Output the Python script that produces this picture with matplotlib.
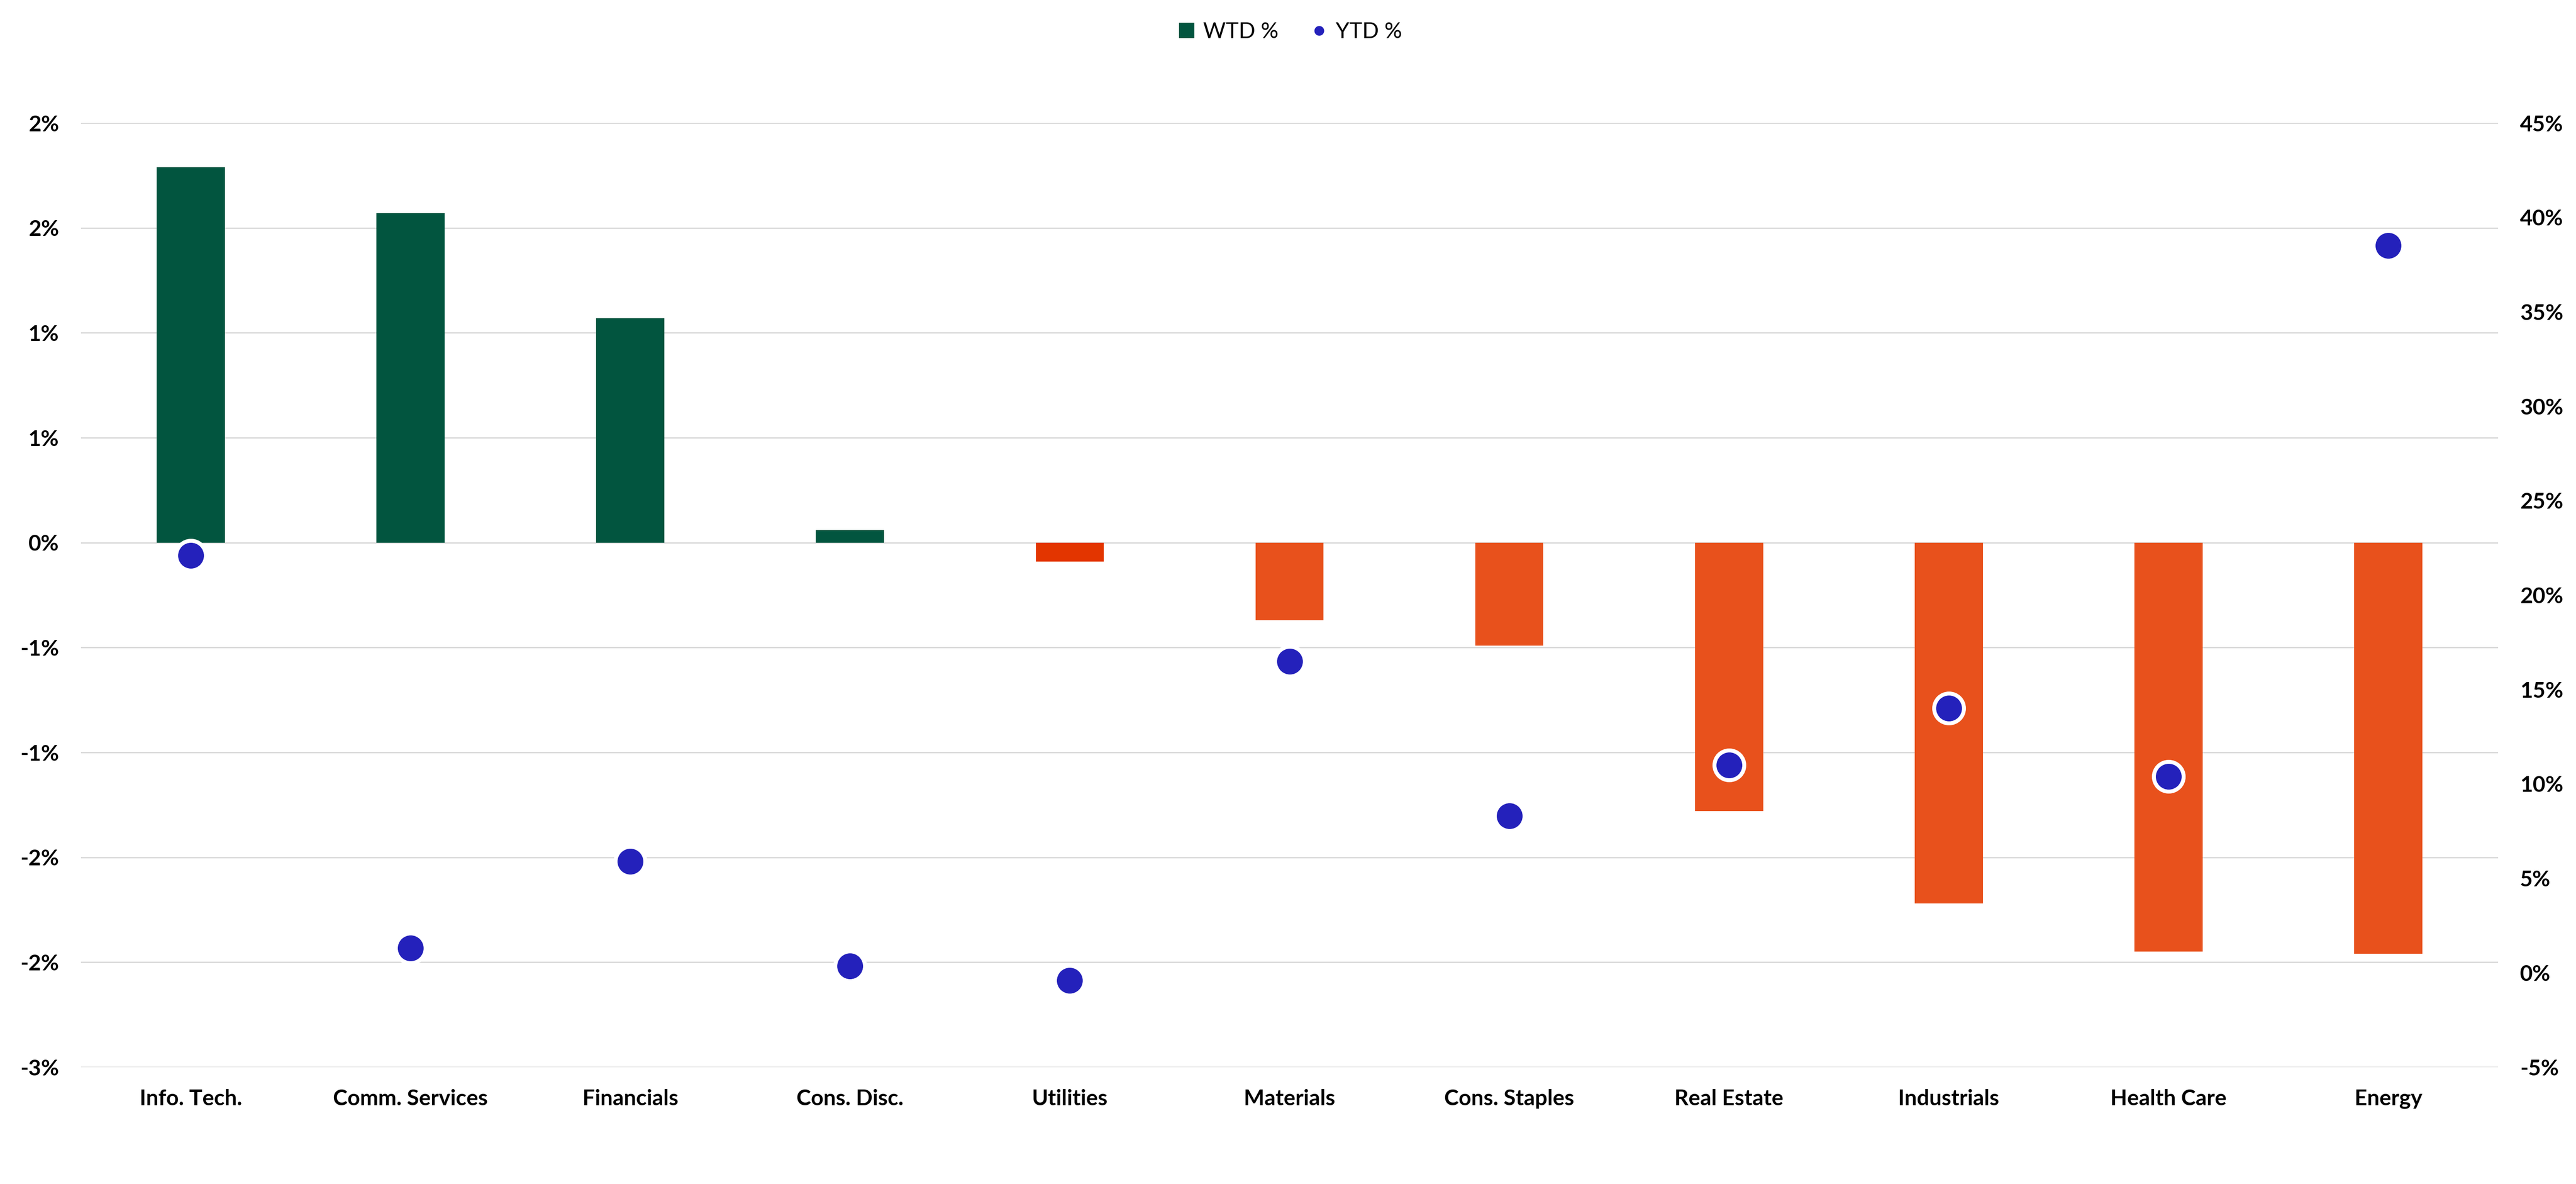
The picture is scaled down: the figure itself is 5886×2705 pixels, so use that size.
import math
import matplotlib
matplotlib.use("Agg")
import matplotlib.pyplot as plt
from matplotlib.ticker import FixedLocator, FuncFormatter

# sector data (percent)
categories = ["Info. Tech.", "Comm. Services", "Financials", "Cons. Disc.", "Utilities",
              "Materials", "Cons. Staples", "Real Estate", "Industrials", "Health Care", "Energy"]
wtd = [1.79, 1.57, 1.07, 0.06, -0.09, -0.37, -0.49, -1.28, -1.72, -1.95, -1.96]
ytd = [22.1, 1.3, 5.9, 0.35, -0.4, 16.5, 8.3, 11.0, 14.0, 10.4, 38.5]

left_ticks = [-2.5, -2.0, -1.5, -1.0, -0.5, 0.0, 0.5, 1.0, 1.5, 2.0]
right_ticks = [-5, 0, 5, 10, 15, 20, 25, 30, 35, 40, 45]

GREEN = "#02553F"
ORANGE = "#E8511C"
RED = "#E33500"
BLUE = "#2421BB"
GRID = "#D9D9D9"

plt.rcParams["font.family"] = ["Lato", "DejaVu Sans"]

def excel_pct(v, pos=None):
    # Excel style "0%" rounding (half away from zero)
    r = int(math.floor(abs(v) + 0.5 + 1e-9)) * (1 if v >= 0 else -1)
    return f"{r}%"

fig = plt.figure(figsize=(58.86, 27.05), dpi=100)
ax = fig.add_axes([0.0314, 0.0987, 0.9384, 0.7974])
ax2 = ax.twinx()

x = list(range(len(categories)))
colors = [GREEN if v >= 0 else ORANGE for v in wtd]
colors[categories.index("Utilities")] = RED

ax.bar(x, wtd, width=0.31, color=colors, zorder=2, label="WTD %")
ax2.plot(x, ytd, linestyle="none", marker="o", markersize=49, markerfacecolor=BLUE,
         markeredgecolor="white", markeredgewidth=6.5, zorder=3, label="YTD %")

ax.set_xlim(-0.5, len(categories) - 0.5)
ax.set_ylim(-2.5, 2.0)
ax2.set_ylim(-5, 45)
ax.yaxis.set_major_locator(FixedLocator(left_ticks))
ax2.yaxis.set_major_locator(FixedLocator(right_ticks))
ax.yaxis.set_major_formatter(FuncFormatter(excel_pct))
ax2.yaxis.set_major_formatter(FuncFormatter(lambda v, p: f"{int(v)}%"))

ax.set_xticks(x)
ax.set_xticklabels(categories)
ax.grid(axis="y", color=GRID, linewidth=2.2, zorder=0)
ax.set_axisbelow(True)

for a in (ax, ax2):
    for s in a.spines.values():
        s.set_visible(False)
    a.tick_params(length=0, labelsize=36, pad=36)
for lbl in ax.get_xticklabels() + ax.get_yticklabels() + ax2.get_yticklabels():
    lbl.set_fontweight("bold")

h1, l1 = ax.get_legend_handles_labels()
h2, l2 = ax2.get_legend_handles_labels()
fig.legend(h1 + h2, l1 + l2, loc="center", bbox_to_anchor=(0.501, 0.973), ncol=2,
           frameon=False, fontsize=36, markerscale=0.46, handlelength=0.7,
           handleheight=0.7, handletextpad=0.4, columnspacing=1.5)

fig.savefig("out.png", dpi=100, facecolor="white")
plt.close(fig)
